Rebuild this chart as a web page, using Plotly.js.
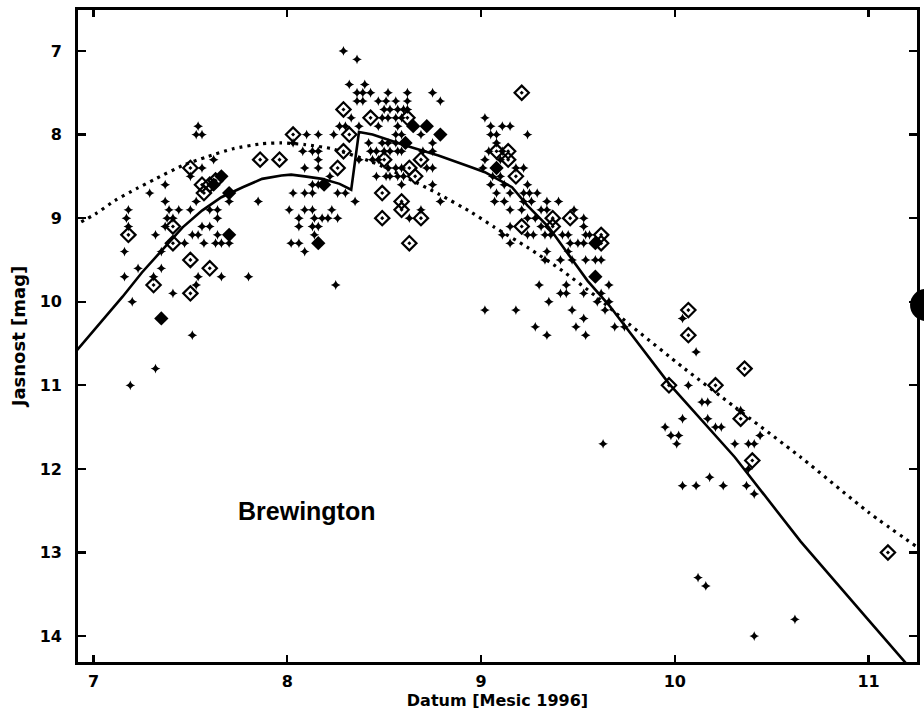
<!DOCTYPE html>
<html>
<head>
<meta charset="utf-8">
<script src="https://cdn.plot.ly/plotly-3.0.1.min.js"></script>
<style>html,body{margin:0;padding:0;background:#fff;}#chart{width:924px;height:715px;}</style>
</head>
<body>
<div id="chart"></div>
<script>
// Axis ticks
const xTicks = [7, 8, 9, 10, 11];
const yTicks = [7, 8, 9, 10, 11, 12, 13, 14];

// Visual estimates (small stars), [month, mag]
const starsLeft = [[7.54,7.9],[7.53,8.0],[7.56,8.0],[7.62,8.3],[7.56,8.4],[7.50,8.5],[7.37,8.6],[7.29,8.7],[7.37,8.8],[7.53,8.8],[7.18,8.9],[7.39,8.9],[7.44,8.9],[7.50,8.9],[7.60,8.9],[7.64,8.9],[7.17,9.0],[7.38,9.0],[7.41,9.0],[7.64,9.0],[7.18,9.1],[7.37,9.1],[7.56,9.1],[7.60,9.1],[7.32,9.2],[7.51,9.2],[7.54,9.2],[7.64,9.2],[7.47,9.3],[7.57,9.3],[7.63,9.3],[7.66,9.3],[7.70,9.3],[7.16,9.4],[7.35,9.4],[7.35,9.6],[7.23,9.6],[7.16,9.7],[7.31,9.7],[7.54,9.7],[7.66,9.7],[7.80,9.7],[7.53,9.8],[7.41,9.9],[7.20,10.0],[7.51,10.4],[7.70,8.8],[7.85,8.8],[7.19,11.0],[7.32,10.8]];
const starsPeak = [[8.29,7.0],[8.36,7.1],[8.32,7.4],[8.40,7.4],[8.36,7.5],[8.39,7.5],[8.43,7.5],[8.52,7.5],[8.62,7.5],[8.75,7.5],[8.36,7.6],[8.39,7.6],[8.47,7.6],[8.51,7.6],[8.56,7.6],[8.62,7.6],[8.79,7.6],[8.50,7.7],[8.53,7.7],[8.57,7.7],[8.60,7.7],[8.62,7.7],[8.33,7.8],[8.49,7.8],[8.52,7.8],[8.56,7.8],[8.59,7.8],[8.27,7.9],[8.30,7.9],[8.37,7.9],[8.47,7.9],[8.57,7.9],[8.10,8.0],[8.16,8.0],[8.24,8.0],[8.56,8.0],[8.59,8.0],[8.69,8.0],[8.03,8.1],[8.42,8.1],[8.49,8.1],[8.52,8.1],[8.56,8.1],[8.75,8.1],[8.08,8.2],[8.13,8.2],[8.16,8.2],[8.43,8.2],[8.46,8.2],[8.50,8.2],[8.53,8.2],[8.57,8.2],[8.59,8.2],[8.70,8.2],[8.75,8.2],[8.16,8.3],[8.37,8.3],[8.44,8.3],[8.47,8.3],[8.09,8.4],[8.16,8.4],[8.52,8.4],[8.56,8.4],[8.59,8.4],[8.72,8.4],[8.75,8.4],[8.22,8.5],[8.46,8.5],[8.51,8.5],[8.53,8.5],[8.57,8.5],[8.60,8.5],[8.13,8.6],[8.16,8.6],[8.59,8.6],[8.75,8.6],[8.03,8.7],[8.09,8.7],[8.13,8.7],[8.26,8.7],[8.30,8.7],[8.35,8.8],[8.79,8.8],[8.01,8.9],[8.09,8.9],[8.13,8.9],[8.23,8.9],[8.69,8.9],[8.06,9.0],[8.14,9.0],[8.18,9.0],[8.21,9.0],[8.26,9.0],[8.63,9.0],[8.06,9.1],[8.13,9.1],[8.16,9.1],[8.14,9.2],[8.02,9.3],[8.06,9.3],[8.09,9.4],[8.25,9.8]];
const starsMid = [[9.02,7.8],[9.05,7.9],[9.11,7.9],[9.15,7.9],[9.05,8.0],[9.08,8.0],[9.24,8.0],[9.08,8.1],[9.04,8.2],[9.11,8.2],[9.02,8.3],[9.10,8.3],[9.01,8.4],[9.18,8.4],[9.22,8.4],[9.06,8.5],[9.10,8.5],[9.05,8.6],[9.12,8.6],[9.24,8.6],[9.08,8.7],[9.15,8.7],[9.22,8.7],[9.25,8.7],[9.29,8.7],[9.07,8.8],[9.12,8.8],[9.22,8.8],[9.26,8.8],[9.34,8.8],[9.40,8.8],[9.15,8.9],[9.21,8.9],[9.31,8.9],[9.34,8.9],[9.48,8.9],[9.24,9.0],[9.28,9.0],[9.53,9.0],[9.15,9.1],[9.31,9.1],[9.53,9.1],[9.11,9.2],[9.24,9.2],[9.27,9.2],[9.33,9.2],[9.36,9.2],[9.42,9.2],[9.45,9.2],[9.54,9.2],[9.56,9.2],[9.15,9.3],[9.46,9.3],[9.50,9.3],[9.53,9.3],[9.34,9.4],[9.45,9.4],[9.33,9.5],[9.41,9.5],[9.47,9.5],[9.54,9.5],[9.59,9.5],[9.62,9.5],[9.30,9.8],[9.44,9.8],[9.66,9.8],[9.41,9.9],[9.44,9.9],[9.53,9.9],[9.62,9.9],[9.35,10.0],[9.60,10.0],[9.66,10.0],[9.02,10.1],[9.18,10.1],[9.47,10.1],[9.64,10.1],[9.53,10.2],[9.28,10.3],[9.49,10.3],[9.69,10.3],[9.74,10.3],[9.34,10.4],[9.54,10.4],[9.63,11.7]];
const starsRight = [[10.04,10.2],[10.11,10.6],[10.07,11.0],[10.14,11.2],[10.17,11.2],[10.34,11.3],[10.04,11.4],[10.17,11.4],[9.95,11.5],[10.21,11.5],[10.24,11.5],[9.98,11.6],[10.02,11.6],[10.44,11.6],[10.01,11.7],[10.31,11.7],[10.38,11.7],[10.41,11.7],[10.38,12.0],[10.18,12.1],[10.04,12.2],[10.11,12.2],[10.25,12.2],[10.37,12.2],[10.41,12.3],[10.12,13.3],[10.16,13.4],[10.62,13.8],[10.41,14.0]];

// Open diamonds with dot
const openObs = [[7.18,9.2],[7.31,9.8],[7.41,9.1],[7.41,9.3],[7.50,8.4],[7.50,9.5],[7.50,9.9],[7.56,8.6],[7.57,8.7],[7.60,8.6],[7.63,8.55],[7.60,9.6],[7.86,8.3],[7.96,8.3],[8.03,8.0],[8.29,7.7],[8.43,7.8],[8.62,7.8],[8.32,8.0],[8.29,8.2],[8.26,8.4],[8.50,8.3],[8.69,8.3],[8.63,8.4],[8.66,8.5],[8.49,8.7],[8.59,8.8],[8.59,8.9],[8.49,9.0],[8.69,9.0],[8.63,9.3],[9.21,7.5],[9.08,8.2],[9.14,8.2],[9.14,8.3],[9.18,8.5],[9.37,9.0],[9.46,9.0],[9.21,9.1],[9.37,9.1],[9.62,9.2],[9.62,9.3],[10.07,10.1],[10.07,10.4],[10.36,10.8],[9.97,11.0],[10.21,11.0],[10.34,11.4],[10.40,11.9],[11.10,13.0]];

// Filled diamonds
const filledObs = [[7.35,10.2],[7.62,8.6],[7.66,8.5],[7.70,8.7],[7.70,9.2],[8.16,9.3],[8.19,8.6],[8.61,8.1],[8.65,7.9],[8.72,7.9],[8.79,8.0],[9.08,8.4],[9.59,9.3],[9.59,9.7]];

// Solid fitted curve
const solidX = [6.90,7.05,7.15,7.25,7.35,7.46,7.56,7.66,7.77,7.87,7.97,8.02,8.09,8.18,8.27,8.33,8.37,8.44,8.61,8.78,8.95,9.02,9.16,9.24,9.35,9.45,9.55,9.66,9.76,9.97,10.31,10.65,11.00,11.24];
const solidY = [10.62,10.22,9.94,9.65,9.39,9.11,8.91,8.75,8.63,8.53,8.49,8.48,8.50,8.53,8.59,8.66,7.97,8.00,8.13,8.25,8.39,8.45,8.63,8.85,9.11,9.43,9.75,10.04,10.34,10.98,11.86,12.87,13.81,14.45];

// Dotted fitted curve
const dottedX = [6.90,7.01,7.11,7.22,7.32,7.46,7.58,7.72,7.87,7.97,8.09,8.23,8.44,8.61,8.78,8.95,9.07,9.24,9.42,9.59,9.76,10.05,10.31,10.65,11.00,11.26];
const dottedY = [9.09,8.95,8.79,8.65,8.53,8.37,8.27,8.17,8.11,8.10,8.12,8.17,8.33,8.51,8.71,8.93,9.11,9.35,9.63,9.93,10.26,10.80,11.26,11.86,12.52,12.95];

const label = 'Brewington';
const xTitle = 'Datum [Mesic 1996]';
const yTitle = 'Jasnost [mag]';

const xs = a => a.map(p => p[0]);
const ys = a => a.map(p => p[1]);
const stars = starsLeft.concat(starsPeak, starsMid, starsRight);
const bold = s => '<b>' + s + '</b>';

const font = 'Liberation Sans, Arial, Helvetica, sans-serif';
const axFont = 'DejaVu Sans, Verdana, sans-serif';

const traces = [
  {x: solidX, y: solidY, mode: 'lines', line: {color: '#000', width: 2.6}, hoverinfo: 'skip'},
  {x: dottedX, y: dottedY, mode: 'lines', line: {color: '#000', width: 3.2, dash: '3px,5px', shape: 'spline', smoothing: 0.6}, hoverinfo: 'skip'},
  {x: xs(stars), y: ys(stars), mode: 'markers', marker: {symbol: 'star-diamond', size: 7, color: '#000', line: {width: 0}}},
  {x: xs(openObs), y: ys(openObs), mode: 'markers', marker: {symbol: 'diamond-open-dot', size: 11, color: '#000', line: {width: 2.2, color: '#000'}}},
  {x: xs(filledObs), y: ys(filledObs), mode: 'markers', marker: {symbol: 'diamond', size: 11, color: '#000', line: {width: 0}}}
];

const axisCommon = {
  showline: true, linecolor: '#000', linewidth: 2.8, mirror: 'ticks',
  ticks: 'inside', tickcolor: '#000', tickwidth: 2.2,
  showgrid: false, zeroline: false,
  tickfont: {family: axFont, size: 16, color: '#000', weight: 'bold'}
};

const layout = {
  width: 924, height: 715,
  margin: {l: 78, r: 7, t: 10, b: 53},
  paper_bgcolor: '#fff', plot_bgcolor: '#fff',
  showlegend: false,
  xaxis: Object.assign({}, axisCommon, {
    range: [6.92, 11.25], tickvals: xTicks, ticktext: xTicks.map(v => bold(v)), ticklen: 7,
    ticklabelstandoff: 3,
    title: {text: bold(xTitle), font: {family: axFont, size: 16, color: '#000'}, standoff: 0}
  }),
  yaxis: Object.assign({}, axisCommon, {
    range: [14.31, 6.51], tickvals: yTicks, ticktext: yTicks.map(v => bold(v)), ticklen: 8,
    ticklabelstandoff: 10,
    title: {text: bold(yTitle), font: {family: axFont, size: 18, color: '#000'}, standoff: 10}
  }),
  annotations: [{
    x: 8.10, y: 12.5, xref: 'x', yref: 'y', text: bold(label), showarrow: false,
    font: {family: font, size: 25, color: '#000'}
  }],
  shapes: [{
    type: 'circle', xref: 'paper', yref: 'paper',
    x0: 0.9917, x1: 1.0298, y0: 0.5230, y1: 0.5721,
    fillcolor: '#000', line: {width: 0}, layer: 'above'
  }]
};

Plotly.newPlot('chart', traces, layout, {displayModeBar: false, staticPlot: true});
</script>
</body>
</html>
